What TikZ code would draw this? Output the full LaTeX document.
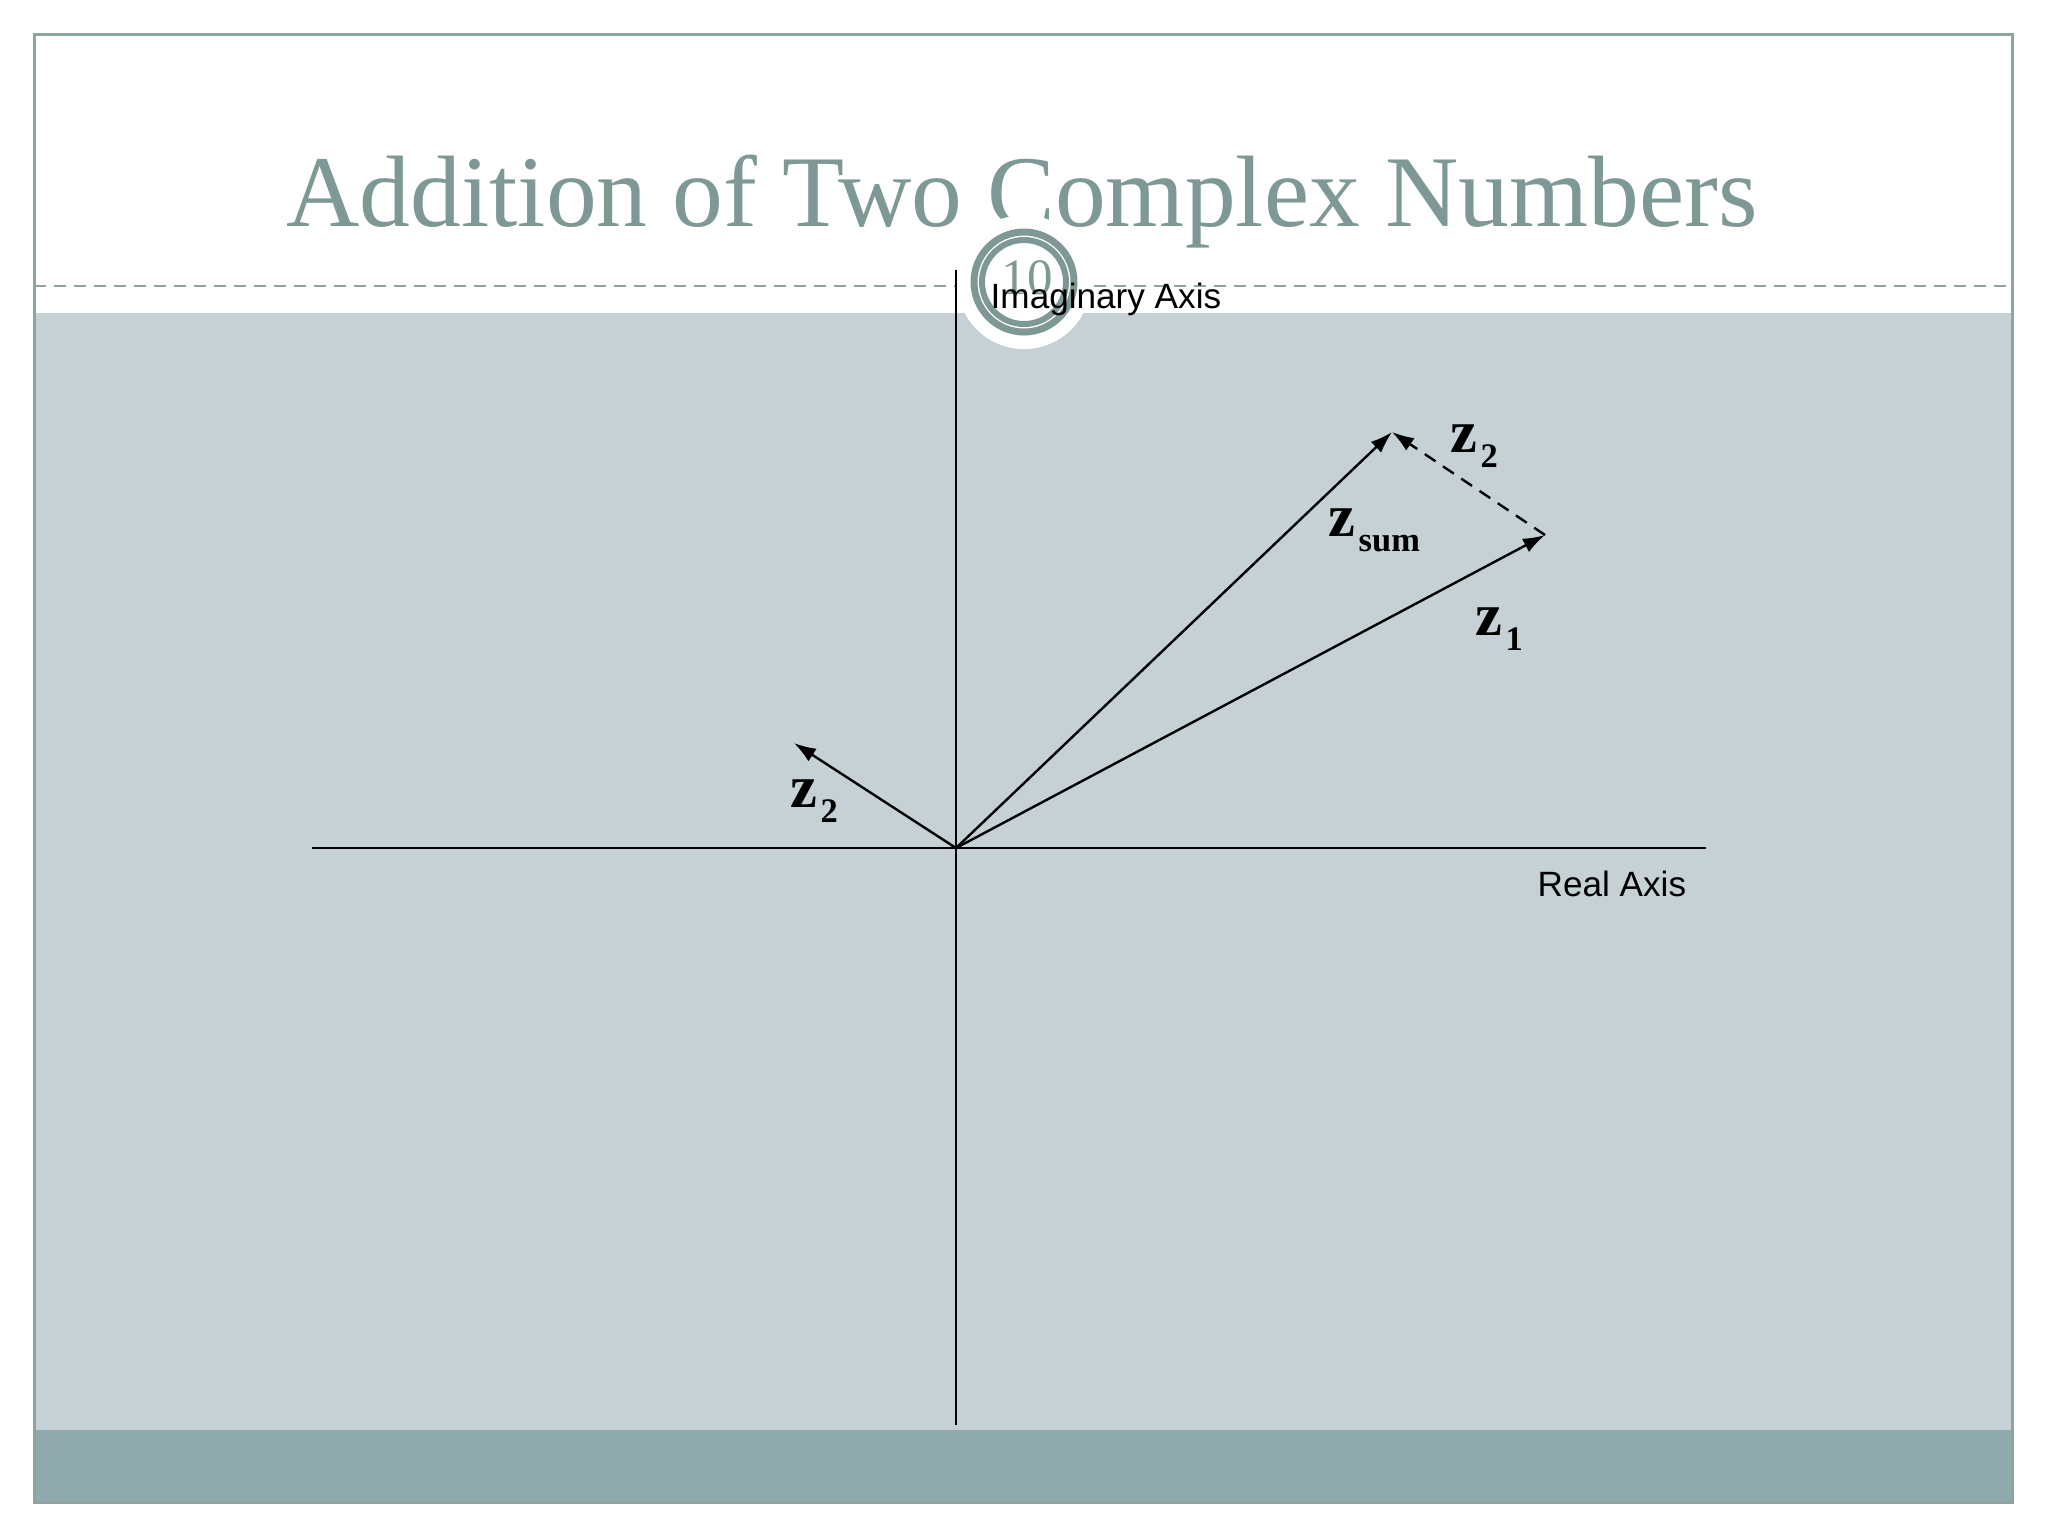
\documentclass[tikz,border=0pt]{standalone}
\usepackage{fontspec}
\setmainfont{Liberation Serif}
\newfontfamily\arialf{Liberation Sans}
\usetikzlibrary{arrows.meta}
\definecolor{panelc}{RGB}{198,209,213}
\definecolor{bandc}{RGB}{142,170,173}
\definecolor{framec}{RGB}{143,163,160}
\definecolor{titlec}{RGB}{126,153,149}
\newcommand{\zlab}[1]{{\fontsize{17.2}{18}\selectfont\bfseries z}\kern0.9pt\raisebox{-4.3pt}{\fontsize{9.8}{10}\selectfont\bfseries #1}}
\tikzset{
  vec/.style={line width=0.24mm, -{Latex[length=2.2mm,width=1.5mm]}},
  axisline/.style={line width=0.22mm, black},
  lab/.style={inner sep=0pt, anchor=base west},
  axlab/.style={inner sep=0pt, anchor=base west, font=\arialf\fontsize{10}{12}\selectfont},
}
\begin{document}
\begin{tikzpicture}[x=0.1mm,y=-0.1mm]
\useasboundingbox (0,0) rectangle (2048,1536);
\fill[white] (0,0) rectangle (2048,1536);
% panels
\fill[panelc] (34,313) rectangle (2012,1430);
\fill[bandc] (34,1430) rectangle (2012,1502);
\draw[framec, line width=0.3mm] (34,34) rectangle (2012,1502);
\draw[framec, line width=0.25mm, dash pattern=on 1.2mm off 0.8mm] (34,286) -- (2012,286);
% title
\node[inner sep=0pt, anchor=base, text=titlec, font=\fontsize{28.9}{32}\selectfont] (title) at (1022,226) {Addition of Two Complex Numbers};
% slide number badge
\fill[white] (1024,282) circle (67);
\draw[titlec, line width=0.7mm] (1024,282) circle (50);
\draw[titlec, line width=0.6mm] (1024,282) circle (42);
\node[inner sep=0pt, text=titlec, font=\fontsize{14.5}{16}\selectfont] (num) at (1027,278) {10};
% axes
\coordinate (O) at (956,848);
\coordinate (ytop) at (956,270);
\coordinate (ybot) at (956,1425);
\coordinate (xl) at (312,848);
\coordinate (xr) at (1706,848);
\draw[axisline] (ytop) -- (ybot);
\draw[axisline] (xl) -- (xr);
\node[axlab] (imag) at (990,308) {Imaginary Axis};
\node[axlab] (real) at (1537,896) {Real Axis};
% vectors
\coordinate (z1) at (1545,535);
\coordinate (zs) at (1392,432);
\coordinate (z2) at (794,743);
\draw[vec] (O) -- (z1);
\draw[vec] (O) -- (zs);
\draw[vec] (O) -- (z2);
\draw[vec, dash pattern=on 1.3mm off 0.9mm] (z1) -- (zs);
% labels
\node[lab] (lz2a) at (1450,452) {\zlab{2}};
\node[lab] (lzs) at (1328,536) {\zlab{sum}};
\node[lab] (lz1) at (1475,635) {\zlab{1}};
\node[lab] (lz2b) at (790,807) {\zlab{2}};
\end{tikzpicture}
\end{document}
